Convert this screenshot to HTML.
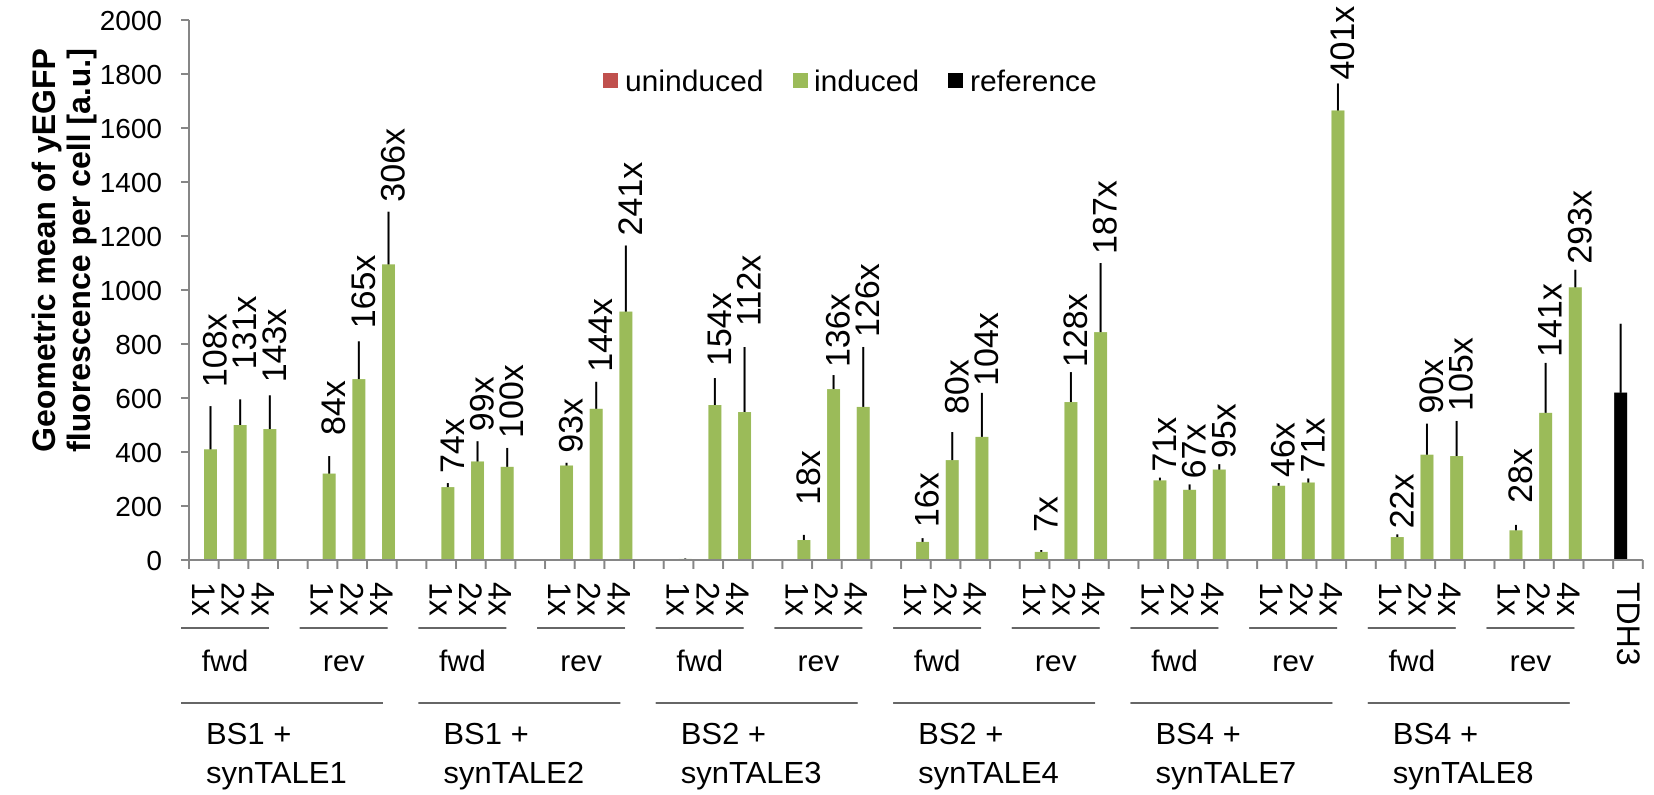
<!DOCTYPE html>
<html><head><meta charset="utf-8"><style>
html,body{margin:0;padding:0;background:#fff;}
svg{display:block;font-family:"Liberation Sans",Arial,sans-serif;}
</style></head><body>
<svg id="c" width="1654" height="795" viewBox="0 0 1654 795" xmlns="http://www.w3.org/2000/svg"></svg>
<script>
const S=document.getElementById('c');const NS='http://www.w3.org/2000/svg';
function el(t,a,txt){const e=document.createElementNS(NS,t);for(const k in a)e.setAttribute(k,a[k]);if(txt!==undefined)e.textContent=txt;S.appendChild(e);return e;}
const X0=189,Y0=560,K=0.27,W=29.67;
const y=v=>Y0-v*K, sx=i=>X0+i*W;
const D=[
[[410,570,'108x',19],[500,595,'131x',30],[485,610,'143x',13]],
[[320,385,'84x',21],[670,810,'165x',13],[1095,1290,'306x',10]],
[[270,285,'74x',10],[365,440,'99x',10],[345,415,'100x',10]],
[[350,360,'93x',10],[560,660,'144x',10],[920,1165,'241x',10]],
[[4,6,'',0],[574,674,'154x',12],[548,789,'112x',21]],
[[74,93,'18x',30],[633,685,'136x',8],[567,789,'126x',10]],
[[67,81,'16x',11],[370,474,'80x',18],[456,619,'104x',7]],
[[30,37,'7x',18],[585,696,'128x',5],[844,1100,'187x',9]],
[[295,305,'71x',6],[260,280,'67x',6],[335,355,'95x',6]],
[[275,285,'46x',6],[287,302,'71x',6],[1665,1765,'401x',4]],
[[85,95,'22x',6],[390,505,'90x',10],[385,515,'105x',10]],
[[110,130,'28x',22],[545,730,'141x',6],[1010,1075,'293x',6]]
];
const AX='#868686';
for(let v=0;v<=2000;v+=200){el('line',{x1:181,x2:X0,y1:y(v),y2:y(v),stroke:AX,'stroke-width':2});
el('text',{x:162,y:y(v)+10,'text-anchor':'end','font-size':28,fill:'#000'},String(v));}
D.forEach((g,gi)=>{g.forEach((d,j)=>{const i=gi*4+j;const bx=sx(i)+15,cx=bx+6.5;
 el('rect',{x:bx,y:y(d[0]),width:13,height:d[0]*K,fill:'#9BBB59'});
 el('line',{x1:cx,x2:cx,y1:y(d[0]),y2:y(d[1]),stroke:'#000','stroke-width':2});
 if(d[2]){const by=y(d[1])-d[3];el('text',{x:0,y:0,transform:`translate(${cx+16},${by}) rotate(-90)`,'font-size':34},d[2]);}
 el('text',{x:0,y:0,transform:`translate(${sx(i)+3},582) rotate(90)`,'font-size':32},['1x','2x','4x'][j]);
});
 const ls=sx(gi*4)-8;el('line',{x1:ls,x2:ls+88,y1:628,y2:628,stroke:'#333','stroke-width':1.5});
 el('text',{x:ls+44,y:671,'text-anchor':'middle','font-size':30},gi%2?'rev':'fwd');
});
const names=['synTALE1','synTALE2','synTALE3','synTALE4','synTALE7','synTALE8'],bs=['BS1 +','BS1 +','BS2 +','BS2 +','BS4 +','BS4 +'];
for(let k=0;k<6;k++){const ls=sx(k*8)-8;el('line',{x1:ls,x2:ls+202,y1:703,y2:703,stroke:'#333','stroke-width':1.5});
 el('text',{x:sx(k*8)+17,y:744,'font-size':31},bs[k]);el('text',{x:sx(k*8)+17,y:783,'font-size':31},names[k]);}
{const bx=sx(48)+1,cx=bx+6.5;el('rect',{x:bx,y:y(620),width:13,height:620*K,fill:'#000'});
el('line',{x1:cx,x2:cx,y1:y(620),y2:y(875),stroke:'#000','stroke-width':2});
el('text',{x:0,y:0,transform:`translate(${sx(48)+4},582) rotate(90)`,'font-size':32},'TDH3');}
el('line',{x1:X0,x2:X0,y1:y(2000),y2:Y0+1,stroke:AX,'stroke-width':2});
el('line',{x1:X0,x2:sx(49),y1:Y0,y2:Y0,stroke:AX,'stroke-width':2});
for(let i=0;i<=49;i++)el('line',{x1:sx(i),x2:sx(i),y1:Y0,y2:Y0+9,stroke:AX,'stroke-width':2});
[[603,'#C0504D',625,'uninduced'],[793,'#9BBB59',814,'induced'],[948,'#000',970,'reference']].forEach(l=>{
 el('rect',{x:l[0],y:73,width:15,height:15,fill:l[1]});el('text',{x:l[2],y:91,'font-size':30},l[3]);});
el('text',{x:0,y:0,transform:'translate(55,250) rotate(-90)','text-anchor':'middle','font-size':32,'font-weight':'bold'},'Geometric mean of yEGFP');
el('text',{x:0,y:0,transform:'translate(90,250) rotate(-90)','text-anchor':'middle','font-size':32,'font-weight':'bold'},'fluorescence per cell [a.u.]');
</script>
</body></html>
